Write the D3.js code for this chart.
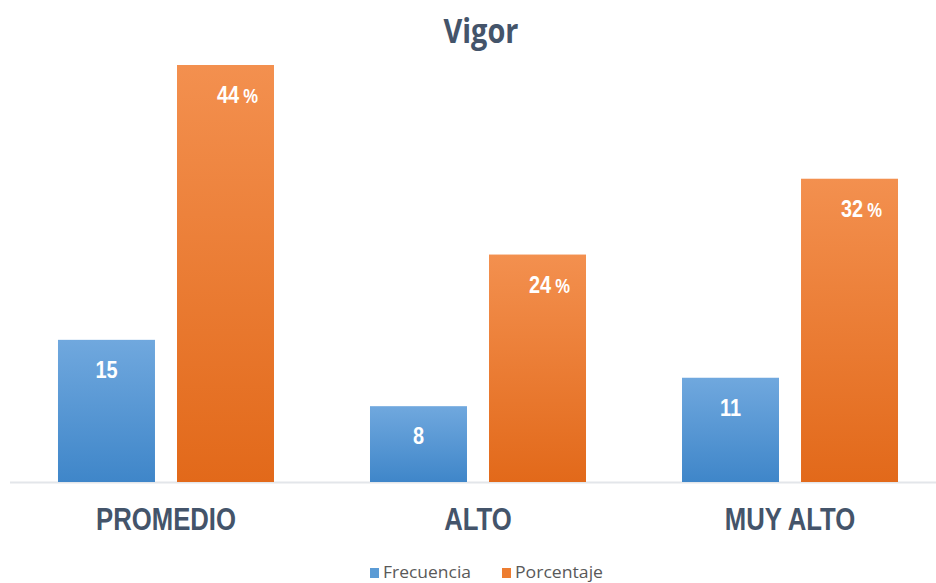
<!DOCTYPE html>
<html>
<head>
<meta charset="utf-8">
<script src="https://cdn.jsdelivr.net/npm/d3@7"></script>
<style>
  body { margin: 0; background: #fff; }
  svg { display: block; }
</style>
</head>
<body>
<div id="chart"></div>
<script>
var categories = ["PROMEDIO", "ALTO", "MUY ALTO"];
var seriesNames = ["Frecuencia", "Porcentaje"];
var frecuencia = [15, 8, 11];
var porcentaje = [44, 24, 32];

var width = 936, height = 583;
var baseY = 482;
var narrow = "'Liberation Sans', Arial, sans-serif";
var squeeze = 0.83; // no narrow font installed, so condense by hand

var svg = d3.select("#chart").append("svg")
  .attr("width", width).attr("height", height);

var defs = svg.append("defs");
var grads = [["gBlue", "#70a8de", "#3f86c9"], ["gOrange", "#f3904f", "#e2691a"]];
grads.forEach(function(g) {
  var lg = defs.append("linearGradient").attr("id", g[0])
    .attr("x1", 0).attr("y1", 0).attr("x2", 0).attr("y2", 1);
  lg.append("stop").attr("offset", "0%").attr("stop-color", g[1]);
  lg.append("stop").attr("offset", "100%").attr("stop-color", g[2]);
});

var x0 = d3.scaleBand().domain(categories).range([10, 946])
  .paddingInner(0.3077).paddingOuter(0.1538);
var x1 = d3.scaleBand().domain(seriesNames).range([0, x0.bandwidth()])
  .paddingInner(0.185);
var y = d3.scaleLinear().domain([0, 44]).range([baseY, 65]);

// title
svg.append("text")
  .attr("x", 481).attr("y", 43)
  .attr("text-anchor", "middle")
  .attr("font-family", "'Open Sans', sans-serif")
  .attr("font-weight", "bold")
  .attr("font-size", "34px")
  .attr("textLength", 75).attr("lengthAdjust", "spacingAndGlyphs")
  .attr("fill", "#44546a")
  .text("Vigor");

// axis line
svg.append("line")
  .attr("x1", 10).attr("x2", width)
  .attr("y1", baseY + 0.5).attr("y2", baseY + 0.5)
  .attr("stroke", "#e3e6ea").attr("stroke-width", 2);

var rows = categories.map(function(c, i) {
  return { cat: c, vals: [
    { s: "Frecuencia", v: frecuencia[i], fill: "url(#gBlue)", pct: false },
    { s: "Porcentaje", v: porcentaje[i], fill: "url(#gOrange)", pct: true }
  ]};
});

var groups = svg.selectAll("g.grp").data(rows).enter().append("g")
  .attr("class", "grp")
  .attr("transform", function(d) { return "translate(" + x0(d.cat) + ",0)"; });

groups.selectAll("rect").data(function(d) { return d.vals; }).enter().append("rect")
  .attr("x", function(d) { return x1(d.s); })
  .attr("y", function(d) { return y(d.v); })
  .attr("width", x1.bandwidth())
  .attr("height", function(d) { return baseY - y(d.v); })
  .attr("fill", function(d) { return d.fill; });

var labels = groups.selectAll("text.val").data(function(d) { return d.vals; }).enter().append("text")
  .attr("class", "val")
  .attr("transform", function(d) {
    var lx = x1(d.s) + x1.bandwidth() / 2 + (d.pct ? 12 : 0);
    return "translate(" + lx + "," + (y(d.v) + 38) + ") scale(" + squeeze + ",1)";
  })
  .attr("text-anchor", "middle")
  .attr("font-family", narrow)
  .attr("font-weight", "bold")
  .attr("font-size", "24px")
  .attr("fill", "#ffffff");
labels.append("tspan").text(function(d) { return d.v; });
labels.filter(function(d) { return d.pct; }).append("tspan")
  .attr("font-size", "20px").attr("dx", 5).text("%");

// category labels
svg.selectAll("text.cat").data(categories).enter().append("text")
  .attr("class", "cat")
  .attr("transform", function(d) {
    return "translate(" + (x0(d) + x0.bandwidth() / 2) + ",530) scale(" + squeeze + ",1)";
  })
  .attr("text-anchor", "middle")
  .attr("font-family", narrow)
  .attr("font-weight", "bold")
  .attr("font-size", "31px")
  .attr("fill", "#44546a")
  .text(function(d) { return d; });

// legend
var legendItems = [
  { name: seriesNames[0], color: "#5b9bd5", x: 370 },
  { name: seriesNames[1], color: "#ed7d31", x: 502 }
];
var lg = svg.selectAll("g.leg").data(legendItems).enter().append("g")
  .attr("class", "leg")
  .attr("transform", function(d) { return "translate(" + d.x + ",0)"; });
lg.append("rect").attr("x", 0).attr("y", 568).attr("width", 9).attr("height", 10)
  .attr("fill", function(d) { return d.color; });
lg.append("text").attr("x", 13).attr("y", 578)
  .attr("font-family", "'Open Sans', sans-serif")
  .attr("font-size", "17px")
  .attr("textLength", 88).attr("lengthAdjust", "spacingAndGlyphs")
  .attr("fill", "#595959")
  .text(function(d) { return d.name; });
</script>
</body>
</html>
